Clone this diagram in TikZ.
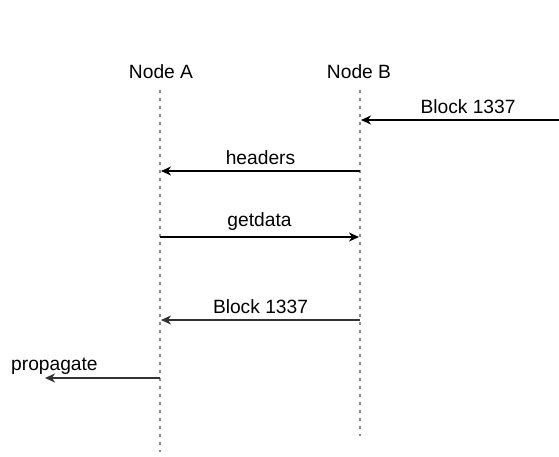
\documentclass[tikz,border=0pt]{standalone}
\usepackage{fontspec}
\setmainfont{Liberation Sans}
\usetikzlibrary{arrows.meta}

\begin{document}
\begin{tikzpicture}[x=1pt, y=-1pt,
        font=\fontsize{19.2}{23}\selectfont,
        lifeline/.style={draw=black!45, line width=2pt, dash pattern=on 3pt off 5pt},
        msg/.style={-{Stealth[length=10pt, width=9pt, inset=3pt]}, line width=1.4pt},
        label/.style={midway, above=5pt, inner sep=1pt}]
        \useasboundingbox (0,0) rectangle (559,456);
        \node (nodea) at (161,72) {Node A};
        \node (nodeb) at (359,72) {Node B};
        \coordinate (atop) at (160,90);
        \coordinate (abot) at (160,452);
        \coordinate (btop) at (360,90);
        \coordinate (bbot) at (360,436);
        \draw[lifeline] (atop) -- (abot);
        \draw[lifeline] (btop) -- (bbot);
        % incoming block
        \coordinate (peer) at (559,120);
        \coordinate (b1) at (361,120);
        \draw[msg] (peer) -- (b1) node[label, xshift=8pt] {Block 1337};
        % headers / getdata / block
        \coordinate (b2) at (360,171);
        \coordinate (a2) at (161,171);
        \draw[msg] (b2) -- (a2) node[label] {headers};
        \coordinate (a3) at (160,237);
        \coordinate (b3) at (359,237);
        \draw[msg] (a3) -- (b3) node[label] {getdata};
        \coordinate (b4) at (360,320);
        \coordinate (a4) at (161,320);
        \draw[msg, black!80] (b4) -- (a4) node[label, black] {Block 1337};
        % propagate
        \coordinate (a5) at (160,378);
        \coordinate (out) at (45,378);
        \draw[msg, black!80] (a5) -- (out);
        \node[anchor=south west, inner sep=1pt] (prop) at (10,376) {propagate};
    \end{tikzpicture}
\end{document}
